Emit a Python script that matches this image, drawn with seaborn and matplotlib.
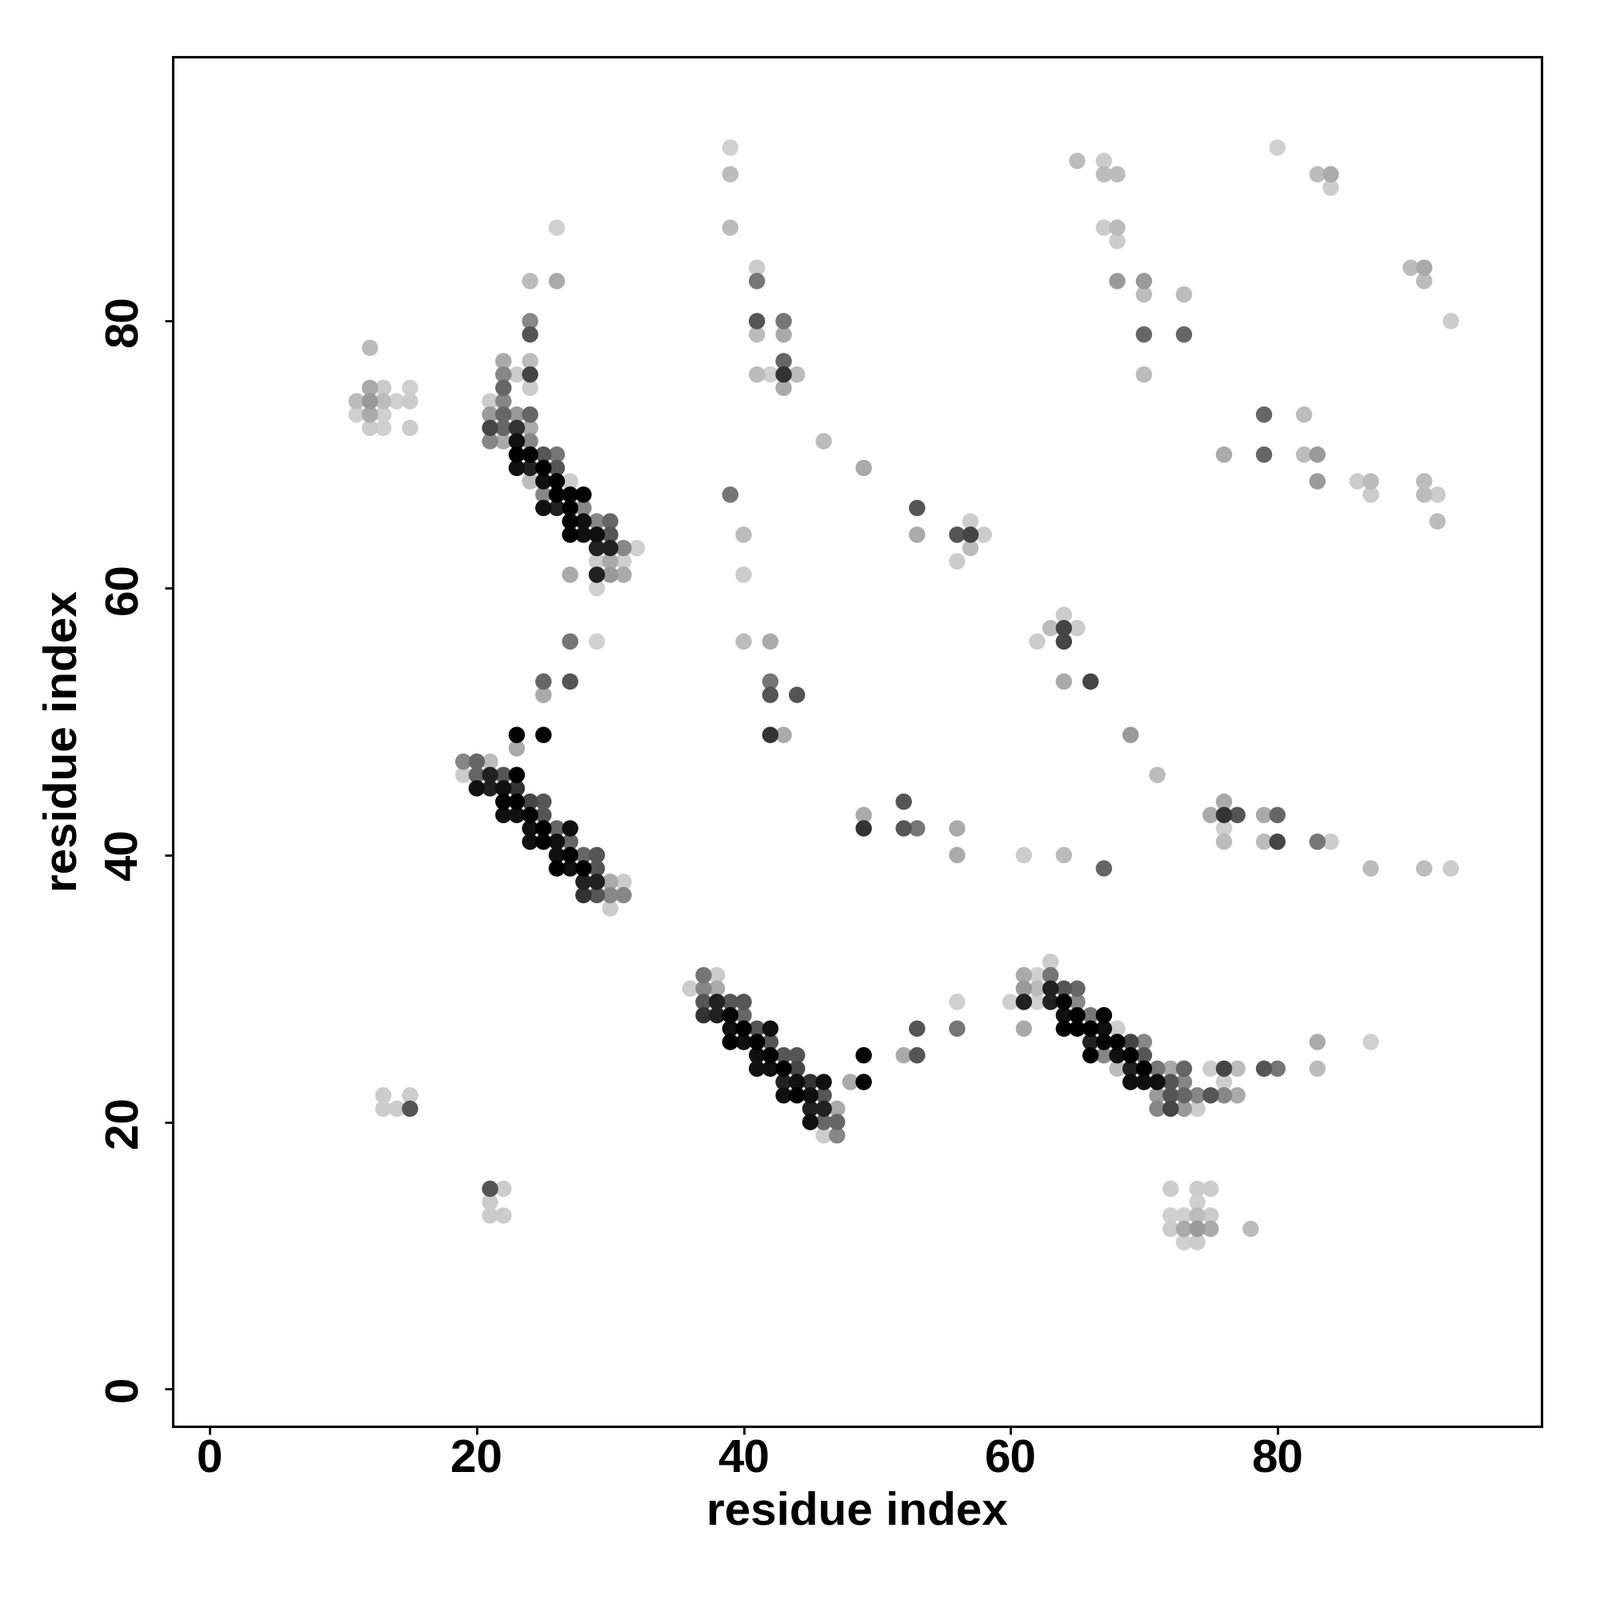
import pandas as pd
import seaborn as sns
import matplotlib.pyplot as plt
from matplotlib.colors import LinearSegmentedColormap

# contacts as (residue i, residue j, score); score 0 = faint, 1 = strongest
block_a = [(12, 78, .10), (12, 75, .18), (13, 75, .02), (15, 75, 0), (11, 74, .10), (12, 74, .26),
           (13, 74, .10), (14, 74, 0), (15, 74, .02), (11, 73, 0), (12, 73, .18), (13, 73, 0),
           (12, 72, .02), (13, 72, 0), (15, 72, .02)]

strand_upper = [
    (22, 77, .18), (24, 77, .10),
    (22, 76, .35), (23, 76, .02), (24, 76, .67),
    (22, 75, .51), (24, 75, .02),
    (21, 74, .02), (22, 74, .35),
    (21, 73, .26), (22, 73, .51), (23, 73, .26), (24, 73, .51),
    (21, 72, .67), (22, 72, .51), (23, 72, .75), (24, 72, .18),
    (21, 71, .35), (22, 71, .18), (23, 71, .92), (24, 71, .35),
    (23, 70, 1), (24, 70, 1), (25, 70, .59), (26, 70, .43),
    (23, 69, .92), (24, 69, .84), (25, 69, 1), (26, 69, .59),
    (24, 68, .10), (25, 68, .92), (26, 68, 1), (27, 68, .02),
    (25, 67, .35), (26, 67, 1), (27, 67, 1), (28, 67, 1),
    (25, 66, .92), (26, 66, .84), (27, 66, 1), (28, 66, .35),
    (27, 65, 1), (28, 65, .92), (29, 65, .35), (30, 65, .51),
    (27, 64, 1), (28, 64, .92), (29, 64, .92), (30, 64, .59),
    (29, 63, .84), (30, 63, .84), (31, 63, .35), (32, 63, 0),
    (29, 62, .02), (30, 62, .18), (31, 62, 0),
    (27, 61, .18), (29, 61, .84), (30, 61, .26), (31, 61, .18),
    (29, 60, 0)]

strand_middle = [
    (19, 47, .35), (20, 47, .51), (21, 47, .10),
    (19, 46, .02), (20, 46, .51), (21, 46, .84), (22, 46, .59), (23, 46, 1),
    (20, 45, .92), (21, 45, .84), (22, 45, .92), (23, 45, .75),
    (22, 44, 1), (23, 44, 1), (24, 44, .67), (25, 44, .59),
    (22, 43, .92), (23, 43, .92), (24, 43, 1), (25, 43, .59),
    (24, 42, .92), (25, 42, 1), (26, 42, .51), (27, 42, .92),
    (24, 41, .92), (25, 41, 1), (26, 41, .92), (27, 41, .51),
    (26, 40, .92), (27, 40, 1), (28, 40, .51), (29, 40, .59),
    (26, 39, 1), (27, 39, .92), (28, 39, 1), (29, 39, .59),
    (28, 38, .84), (29, 38, .84), (30, 38, .18), (31, 38, .02),
    (28, 37, .75), (29, 37, .59), (30, 37, .35), (31, 37, .35),
    (30, 36, .02)]

strand_lower_left = [
    (37, 31, .43), (38, 31, .02),
    (36, 30, .02), (37, 30, .35), (38, 30, .18),
    (37, 29, .59), (38, 29, .84), (39, 29, .59), (40, 29, .59),
    (37, 28, .75), (38, 28, .84), (39, 28, 1), (40, 28, .51),
    (39, 27, .92), (40, 27, 1), (41, 27, .59), (42, 27, .92),
    (39, 26, 1), (40, 26, .92), (41, 26, 1), (42, 26, .59),
    (41, 25, .92), (42, 25, 1), (43, 25, .59), (44, 25, .59),
    (41, 24, .92), (42, 24, .92), (43, 24, 1), (44, 24, .67),
    (43, 23, .84), (44, 23, .92), (45, 23, .75), (46, 23, .92),
    (43, 22, .92), (44, 22, 1), (45, 22, .92), (46, 22, .59),
    (45, 21, .84), (46, 21, .84), (47, 21, .18),
    (45, 20, .92), (46, 20, .51), (47, 20, .51),
    (46, 19, .02), (47, 19, .35),
    (48, 23, .18), (49, 23, 1), (49, 25, 1)]

strand_lower_right = [
    (63, 32, .02),
    (61, 31, .18), (62, 31, 0), (63, 31, .43),
    (61, 30, .26), (62, 30, .10), (63, 30, .84), (64, 30, .59), (65, 30, .51),
    (60, 29, 0), (61, 29, .84), (62, 29, 0), (63, 29, .84), (64, 29, 1), (65, 29, .35),
    (64, 28, .92), (65, 28, 1), (66, 28, .43), (67, 28, 1),
    (61, 27, .18), (64, 27, 1), (65, 27, 1), (66, 27, 1), (67, 27, .92), (68, 27, .02),
    (66, 26, .84), (67, 26, 1), (68, 26, 1), (69, 26, .67), (70, 26, .35),
    (66, 25, 1), (67, 25, .35), (68, 25, .92), (69, 25, 1), (70, 25, .59),
    (68, 24, .10), (69, 24, .84), (70, 24, 1), (71, 24, .43), (72, 24, .18), (73, 24, .51),
    (69, 23, .92), (70, 23, .92), (71, 23, .92), (72, 23, .59), (73, 23, .35),
    (71, 22, .26), (72, 22, .59), (73, 22, .51), (74, 22, .35),
    (71, 21, .35), (72, 21, .67), (73, 21, .26), (74, 21, .02),
    (75, 24, .02), (76, 24, .67), (77, 24, .10), (79, 24, .59), (80, 24, .43), (83, 24, .10),
    (76, 23, .02), (75, 22, .59), (76, 22, .35), (77, 22, .18),
    (83, 26, .18), (87, 26, 0),
    (52, 25, .18), (53, 25, .59), (53, 27, .59), (56, 27, .43), (56, 29, 0)]

scatter_upper_left = [
    (26, 87, 0), (24, 83, .10), (26, 83, .18), (24, 80, .35), (24, 79, .59),
    (27, 56, .43), (29, 56, 0), (25, 53, .51), (27, 53, .59), (25, 52, .18),
    (23, 49, 1), (25, 49, 1), (23, 48, .18),
    (39, 93, 0), (39, 91, .10), (39, 87, .10), (41, 84, .02), (41, 83, .43),
    (41, 80, .59), (43, 80, .43), (41, 79, .10), (43, 79, .18),
    (43, 77, .51), (41, 76, .10), (42, 76, 0), (43, 76, .75), (44, 76, .10), (43, 75, .18),
    (46, 71, .10), (49, 69, .18), (39, 67, .43),
    (40, 64, .10), (40, 61, .02), (40, 56, .10), (42, 56, .18),
    (42, 53, .43), (42, 52, .59), (44, 52, .59), (42, 49, .75), (43, 49, .18)]

scatter_center = [
    (49, 43, .18), (49, 42, .75), (52, 44, .59), (52, 42, .59), (53, 42, .43), (56, 42, .18),
    (56, 40, .18), (61, 40, .02), (64, 40, .10), (67, 39, .51),
    (53, 66, .59), (53, 64, .18), (56, 64, .59), (57, 64, .67), (58, 64, .02), (57, 65, .02),
    (57, 63, .10), (56, 62, .02),
    (64, 58, .02), (63, 57, .10), (64, 57, .67), (65, 57, .02), (62, 56, .02), (64, 56, .67),
    (64, 53, .18), (66, 53, .67), (69, 49, .26), (71, 46, .10)]

scatter_upper_right = [
    (65, 92, .10), (67, 92, .02), (67, 91, .10), (68, 91, .10), (67, 87, .02), (68, 87, .10),
    (68, 86, .02), (68, 83, .26), (70, 83, .26), (70, 82, .10), (73, 82, .10), (70, 79, .51),
    (73, 79, .51), (70, 76, .10),
    (80, 93, 0), (83, 91, .10), (84, 91, .18), (84, 90, .02),
    (90, 84, .10), (91, 84, .18), (91, 83, .10), (93, 80, .02),
    (79, 73, .51), (82, 73, .10), (76, 70, .18), (79, 70, .51), (82, 70, .10), (83, 70, .26),
    (83, 68, .26), (86, 68, .02), (87, 68, .10), (91, 68, .10), (87, 67, .02), (91, 67, .10),
    (92, 67, .02), (92, 65, .10)]

scatter_right = [
    (76, 44, .18), (75, 43, .18), (76, 43, .75), (77, 43, .59), (79, 43, .18), (80, 43, .51),
    (76, 42, 0), (76, 41, .10), (79, 41, .10), (80, 41, .67), (83, 41, .43), (84, 41, .02),
    (87, 39, .10), (91, 39, .10), (93, 39, .02)]

patches_low = [
    (13, 22, .02), (15, 22, .02), (13, 21, .02), (14, 21, .02), (15, 21, .59),
    (21, 15, .59), (22, 15, .02), (21, 14, .02), (21, 13, .02), (22, 13, .02),
    (72, 15, .02), (74, 15, .02), (75, 15, .02), (74, 14, 0),
    (72, 13, 0), (73, 13, 0), (74, 13, .10), (75, 13, .02),
    (72, 12, .02), (73, 12, .18), (74, 12, .26), (75, 12, .18), (78, 12, .10),
    (73, 11, 0), (74, 11, .02)]

ticks = [0, 20, 40, 60, 80]

contacts = (block_a + strand_upper + strand_middle + strand_lower_left + strand_lower_right
            + scatter_upper_left + scatter_center + scatter_upper_right + scatter_right + patches_low)
df = pd.DataFrame(contacts, columns=["i", "j", "score"])
df = df.sort_values("score")  # strongest contacts drawn last

sns.set_style("white")
plt.rcParams['font.family'] = ['Liberation Sans', 'DejaVu Sans']
plt.rcParams['font.weight'] = 'bold'
plt.rcParams['text.color'] = 'black'
plt.rcParams['axes.labelcolor'] = 'black'
plt.rcParams['xtick.color'] = 'black'
plt.rcParams['ytick.color'] = 'black'

fig = plt.figure(figsize=(10, 10), dpi=200)
ax = fig.add_axes([0.1078, 0.1085, 0.8557, 0.856])

grey = LinearSegmentedColormap.from_list("contact_grey", ["#d0d0d0", "#000000"])
sns.scatterplot(data=df, x="i", y="j", hue="score", palette=grey, hue_norm=(0, 1),
                s=54, linewidth=0, legend=False, ax=ax)

ax.set_xlim(-2.8, 99.8)
ax.set_ylim(-2.8, 99.8)
ax.set_xticks(ticks)
ax.set_yticks(ticks)
ax.tick_params(bottom=True, left=True, direction='out', length=3.6, width=1.0,
               color='black', labelcolor='black', labelsize=21)
ax.tick_params(axis='x', pad=2)
ax.tick_params(axis='y', labelrotation=90, pad=8)
for lab in ax.get_yticklabels():
    lab.set_va('center')
for sp in ax.spines.values():
    sp.set_color('black')
    sp.set_linewidth(1.1)

ax.set_xlabel("residue index", fontsize=21, fontweight='bold', color='black')
ax.set_ylabel("residue index", fontsize=21, fontweight='bold', color='black')
ax.xaxis.set_label_coords(0.5, -0.063)
ax.xaxis.label.set_va('center')
ax.yaxis.set_label_coords(-0.079, 0.5)
ax.yaxis.label.set_va('center')

plt.savefig("out.png", dpi=200)
plt.close()
